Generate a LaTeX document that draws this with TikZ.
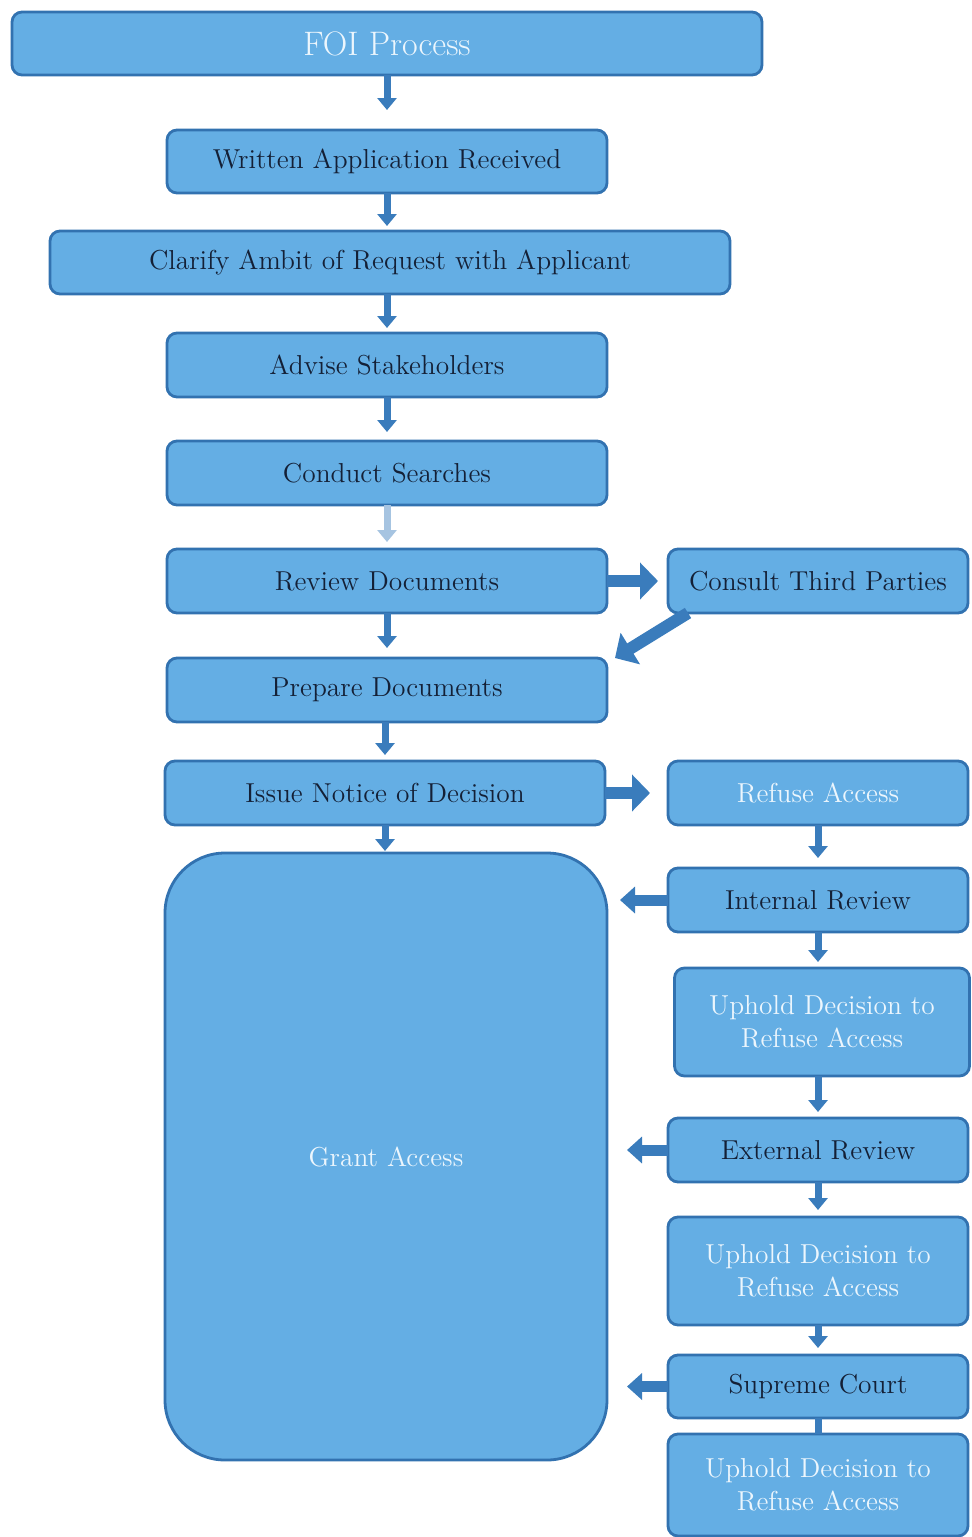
\documentclass[tikz,border=0pt]{standalone}
\usepackage{fontspec}
\usetikzlibrary{arrows.meta,calc}
\definecolor{fil}{RGB}{100,174,228}
\definecolor{bdr}{RGB}{50,114,176}
\definecolor{arr}{RGB}{58,124,188}
\definecolor{dtxt}{RGB}{20,32,54}
\definecolor{ltxt}{RGB}{236,246,253}
\begin{document}
\begin{tikzpicture}[x=0.5pt,y=-0.5pt,
  box/.style={draw=bdr,fill=fil,line width=1.4pt,rounded corners=5pt,inner sep=0pt,outer sep=0pt,
    align=center,font=\fontsize{13.7}{16.5}\selectfont,text=dtxt},
  sz/.style 2 args={minimum width=#1*0.5pt,minimum height=#2*0.5pt},
  lt/.style={text=ltxt},
  varrow/.style={draw=arr,line width=3.5pt,-{Triangle[width=9.5pt,length=6pt]}},
  harrow/.style={draw=arr,line width=6pt,-{Triangle[width=18pt,length=9pt]}},
  larrow/.style={draw=arr,line width=5.5pt,-{Triangle[width=13pt,length=7.5pt]}},
]
\useasboundingbox (0,0) rectangle (972,1537);
\fill[white] (0,0) rectangle (972,1537);

% left column
\node[box,sz={750}{63},lt,font=\fontsize{17}{20}\selectfont] (foi) at (387,43.5) {FOI Process};
\node[box,sz={440}{63}] (war) at (387,161.5) {Written Application Received};
\node[box,sz={680}{63}] (cla) at (390,262.5) {Clarify Ambit of Request with Applicant};
\node[box,sz={440}{64}] (adv) at (387,365) {Advise Stakeholders};
\node[box,sz={440}{64}] (con) at (387,473) {Conduct Searches};
\node[box,sz={440}{64}] (rev) at (387,581) {Review Documents};
\node[box,sz={440}{64}] (pre) at (387,690) {Prepare Documents};
\node[box,sz={440}{64}] (iss) at (385,793) {Issue Notice of Decision};
\node[box,sz={442}{607},lt,rounded corners=30pt] (gra) at (386,1156.5) {Grant Access};

% right column
\node[box,sz={300}{64}] (ctp) at (818,581) {Consult Third Parties};
\node[box,sz={300}{64},lt] (ref) at (818,793) {Refuse Access};
\node[box,sz={300}{64}] (int) at (818,900) {Internal Review};
\node[box,sz={295}{108},lt] (up1) at (822,1022) {Uphold Decision to\\Refuse Access};
\node[box,sz={300}{64}] (ext) at (818,1150) {External Review};
\node[box,sz={300}{108},lt] (up2) at (818,1271) {Uphold Decision to\\Refuse Access};
\node[box,sz={300}{63}] (sup) at (818,1386.5) {Supreme Court};
\node[box,sz={300}{102},lt] (up3) at (818,1485) {Uphold Decision to\\Refuse Access};

% vertical arrows, left column
\draw[varrow,shorten >=10pt] (foi.south) -- (war.north);
\draw[varrow,shorten >=2.5pt] (war.south) -- (war.south |- cla.north);
\draw[varrow,shorten >=2.5pt] (cla.south -| adv.south) -- (adv.north);
\draw[varrow,shorten >=4.5pt] (adv.south) -- (con.north);
\draw[varrow,draw=arr!45!white,shorten >=3.5pt] (con.south) -- (rev.north);
\draw[varrow,shorten >=5pt] (rev.south) -- (pre.north);
\draw[varrow,shorten >=3pt] (pre.south -| iss.south) -- (iss.north);
\draw[varrow,shorten >=1pt] (iss.south) -- (iss.south |- gra.north);

% vertical arrows, right column
\draw[varrow,shorten >=5pt] (ref.south) -- (int.north);
\draw[varrow,shorten >=3pt] (int.south) -- (int.south |- up1.north);
\draw[varrow,shorten >=3pt] (up1.south -| ext.south) -- (ext.north);
\draw[varrow,shorten >=3.5pt] (ext.south) -- (up2.north);
\draw[varrow,shorten >=3.5pt] (up2.south) -- (sup.north);
\draw[draw=arr,line width=3.5pt] (sup.south) -- (up3.north);

% horizontal arrows
\draw[harrow,shorten >=5pt] (rev.east) -- (ctp.west);
\draw[harrow] ($(ctp.south west)+(20,0)$) -- ($(pre.north east)+(8,0)$);
\draw[harrow,shorten >=9pt] (iss.east) -- (iss.east -| ref.west);
\draw[larrow,shorten >=6.5pt] (int.west) -- (int.west -| gra.east);
\draw[larrow,shorten >=10pt] (ext.west) -- (ext.west -| gra.east);
\draw[larrow,shorten >=10pt] (sup.west) -- (sup.west -| gra.east);
\end{tikzpicture}
\end{document}
